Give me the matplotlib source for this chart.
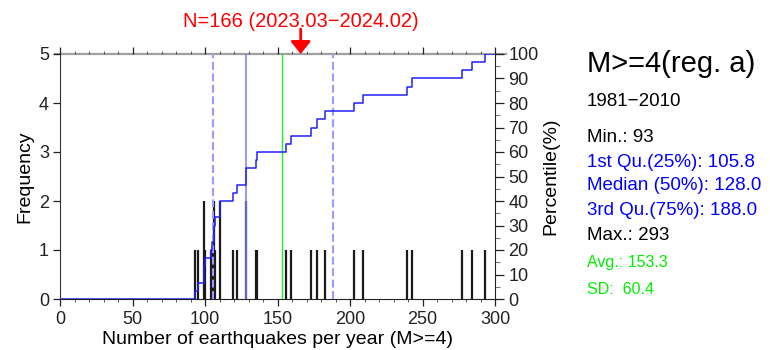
import numpy as np
import matplotlib
matplotlib.use("Agg")
import matplotlib.pyplot as plt
from matplotlib.ticker import MultipleLocator

plt.rcParams['font.family'] = ['Liberation Sans', 'DejaVu Sans']

# Yearly counts of M>=4 earthquakes, 1981-2010
eq_counts = [93, 95, 99, 99, 100, 104, 105, 106, 106, 107,
             110, 110, 119, 122, 128, 128, 135, 136, 156, 159,
             173, 177, 183, 203, 209, 239, 243, 277, 284, 293]

# Summary statistics of the base period
stat_min = 93
stat_q1 = 105.8
stat_median = 128.0
stat_q3 = 188.0
stat_max = 293
stat_avg = 153.3
stat_sd = 60.4

# Current year count
n_recent = 166
recent_period = "2023.03\u22122024.02"
base_period = "1981\u22122010"
title = "M>=4(reg. a)"

fig = plt.figure(figsize=(7.7, 3.5), dpi=100)
ax = fig.add_axes([60 / 770, 51 / 350, 435 / 770, 245 / 350])
ax2 = ax.twinx()

# frequency of each count, drawn as vertical lines
vals, freq = np.unique(eq_counts, return_counts=True)
ax.vlines(vals, 0, freq, color='#1a1a1a', lw=1.6, zorder=2)

# quartiles, median and mean
ax.axvline(stat_q1, color='#9a9aff', lw=1.5, ls=(0, (3.8, 1.7)), zorder=3)
ax.axvline(stat_q3, color='#9a9aff', lw=1.5, ls=(0, (3.8, 1.7)), zorder=3)
ax.axvline(stat_median, color='#7a7aff', lw=1.1, zorder=3)
ax.axvline(stat_avg, color='#22ee22', lw=1.0, zorder=3)

# top reference line
ax.axhline(5, xmin=-0.012, xmax=1.025, color='#a0a0a0', lw=1.6, clip_on=False, zorder=1)

# cumulative percentile
srt = np.sort(eq_counts)
uniq, cnt = np.unique(srt, return_counts=True)
pct = np.cumsum(cnt) / len(srt) * 100
xs = np.concatenate([[0], uniq, [300]])
ys = np.concatenate([[0], pct, [100]])
ax2.step(xs, ys, where='post', color='#2020ff', lw=1.1, zorder=4)

ax.set_xlim(0, 300)
ax.set_ylim(0, 5)
ax2.set_ylim(0, 100)

ax.set_xticks(range(0, 301, 50))
ax.xaxis.set_minor_locator(MultipleLocator(10))
ax.set_yticks(range(0, 6))
ax2.set_yticks(range(0, 101, 10))
ax2.yaxis.set_minor_locator(MultipleLocator(5))

ax.tick_params(axis='x', which='major', length=5, width=0.9, labelsize=13, pad=3.5,
               top=True, direction='out', colors='#222222')
ax.tick_params(axis='x', which='minor', length=2.5, width=0.7, top=True,
               direction='out', color='#555555')
ax.tick_params(axis='y', length=5, width=0.9, labelsize=13, pad=3, colors='#222222')
ax2.tick_params(axis='y', which='major', length=6.5, width=0.9, labelsize=13, pad=3,
                colors='#222222')
ax2.tick_params(axis='y', which='minor', length=3.5, width=0.8, color='#777777')

for s in ['top', 'right']:
    ax.spines[s].set_visible(False)
for s in ['top', 'left', 'bottom']:
    ax2.spines[s].set_visible(False)
ax.spines['left'].set_color('#333333')
ax.spines['bottom'].set_color('#222222')
ax2.spines['right'].set_color('#222222')

ax.set_xlabel("Number of earthquakes per year (M>=4)", fontsize=14, labelpad=2)
ax.set_ylabel("Frequency", fontsize=14, labelpad=4)
ax2.set_ylabel("Percentile(%)", fontsize=14, labelpad=3)

# arrow marking the current count
ax.annotate('', xy=(n_recent, 5), xycoords='data',
            xytext=(0, 18), textcoords='offset points', annotation_clip=False,
            arrowprops=dict(arrowstyle='-|>,head_length=0.75,head_width=0.6',
                            color='red', lw=2, mutation_scale=10,
                            shrinkA=0, shrinkB=0))
ax.annotate(f"N={n_recent} ({recent_period})", xy=(n_recent, 5), xycoords='data',
            xytext=(0, 19.5), textcoords='offset points', annotation_clip=False,
            ha='center', va='baseline', color='red', fontsize=14.5)

# summary text on the right
tx = 587 / 770
fig.text(tx, 1 - 72.5 / 350, title, fontsize=21, va='baseline')
fig.text(tx, 1 - 106.5 / 350, base_period, fontsize=13.5, va='baseline')
stat_rows = [
    (f"Min.: {stat_min}", 'black', 13.5, 142.5),
    (f"1st Qu.(25%): {stat_q1:.1f}", 'blue', 13.5, 166.5),
    (f"Median (50%): {stat_median:.1f}", 'blue', 13.5, 190.5),
    (f"3rd Qu.(75%): {stat_q3:.1f}", 'blue', 13.5, 215),
    (f"Max.: {stat_max}", 'black', 13.5, 239.5),
    (f"Avg.: {stat_avg:.1f}", '#00ee00', 11.5, 267.5),
    (f"SD:  {stat_sd:.1f}", '#00ee00', 11.5, 293.5),
]
for txt, col, fs, ypx in stat_rows:
    fig.text(tx, 1 - ypx / 350, txt, color=col, fontsize=fs, va='baseline')

fig.savefig('out.png', dpi=100)
